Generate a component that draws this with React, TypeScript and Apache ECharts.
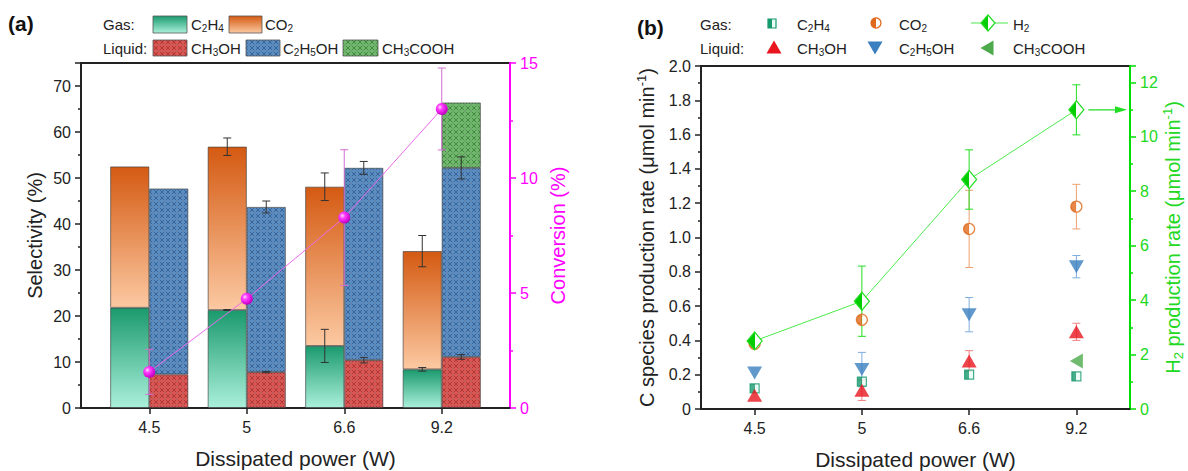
import React, { useEffect, useRef } from 'react';
import * as echarts from 'echarts';

const FF = "'Liberation Sans', Arial, Helvetica, sans-serif";
const TXT = '#222222';
const MAG = '#ff00ff';
const GRN = '#00dd00';

// ---------- categories ----------
const powers = ['4.5', '5', '6.6', '9.2'];
const xPos = [1, 2, 3, 4];

// ---------- panel (a): selectivity (%) ----------
const selC2H4 = [21.8, 21.3, 13.5, 8.4];
const selC2H4Err = [0, 0.1, 3.6, 0.4];
const selCO2 = [30.7, 35.5, 34.6, 25.7];
const selGasTotalErr = [0, 1.9, 3.0, 3.4];
const selCH3OH = [7.3, 7.8, 10.4, 11.1];
const selCH3OHErr = [0, 0.15, 0.6, 0.5];
const selC2H5OH = [40.4, 35.9, 41.8, 41.1];
const selLiquidTotalErr = [0, 1.3, 1.4, 2.4];
const selCH3COOH = [null, null, null, 14.2];

// conversion (%)
const conversion = [1.57, 4.75, 8.28, 13.0];
const conversionErr = [0.98, 0, 2.95, 1.78];

// ---------- panel (b): production rates ----------
const rateC2H4 = [0.12, 0.16, 0.2, 0.19];
const rateCO2 = [0.38, 0.52, 1.05, 1.18];
const rateCO2Err = [0, 0.02, 0.225, 0.13];
const rateCH3OH = [0.08, 0.11, 0.28, 0.45];
const rateCH3OHErr = [0, 0.06, 0.06, 0.05];
const rateC2H5OH = [0.21, 0.23, 0.55, 0.83];
const rateC2H5OHErr = [0, 0.1, 0.1, 0.065];
const rateCH3COOH = [null, null, null, 0.28];
const rateH2 = [2.5, 3.96, 8.43, 10.99];
const rateH2Err = [0, 1.29, 1.09, 0.92];

const BAR_W = 39;
const GRID_A = { left: 81, top: 63, width: 429, height: 345 };
const GRID_B = { left: 701, top: 66, width: 429, height: 343 };

function vgrad(top: string, bottom: string) {
  return new echarts.graphic.LinearGradient(0, 0, 0, 1, [
    { offset: 0, color: top },
    { offset: 1, color: bottom },
  ]);
}
function half(c: string, r = '#ffffff') {
  return new echarts.graphic.LinearGradient(0, 0, 1, 0, [
    { offset: 0, color: c },
    { offset: 0.5, color: c },
    { offset: 0.5, color: r },
    { offset: 1, color: r },
  ]);
}
function hatch(base: string, dark: string, light: string) {
  const c = document.createElement('canvas');
  c.width = 6;
  c.height = 6;
  const ctx = c.getContext('2d')!;
  ctx.fillStyle = base;
  ctx.fillRect(0, 0, 6, 6);
  ctx.strokeStyle = dark;
  ctx.lineWidth = 1;
  ctx.beginPath();
  ctx.moveTo(0, 0);
  ctx.lineTo(6, 6);
  ctx.moveTo(6, 0);
  ctx.lineTo(0, 6);
  ctx.stroke();
  ctx.fillStyle = light;
  ctx.fillRect(2, 2.5, 2, 1);
  return { image: c.toDataURL(), repeat: 'repeat', imageWidth: 6, imageHeight: 6 } as any;
}

function errorSeries(xi: number, yi: number, data: number[][], offset: number, color: string, cap: number, z: number) {
  return {
    type: 'custom',
    xAxisIndex: xi,
    yAxisIndex: yi,
    z,
    silent: true,
    data,
    encode: { x: 0, y: 1 },
    renderItem: (_p: any, api: any) => {
      const x = api.value(0);
      const y = api.value(1);
      const e = api.value(2);
      if (!e) return { type: 'group', children: [] };
      const p1 = api.coord([x, y + e]);
      const p2 = api.coord([x, y - e]);
      const px = p1[0] + offset;
      const st = { stroke: color, lineWidth: 1 };
      return {
        type: 'group',
        children: [
          { type: 'line', shape: { x1: px, y1: p1[1], x2: px, y2: p2[1] }, style: st },
          { type: 'line', shape: { x1: px - cap, y1: p1[1], x2: px + cap, y2: p1[1] }, style: st },
          { type: 'line', shape: { x1: px - cap, y1: p2[1], x2: px + cap, y2: p2[1] }, style: st },
        ],
      };
    },
  };
}

const richBase = (size: number, color: string) => ({
  n: { fontSize: size, fontFamily: FF, color, lineHeight: size + 4 },
  s: { fontSize: Math.round(size * 0.65), fontFamily: FF, color, lineHeight: 8, verticalAlign: 'bottom' },
  sup: { fontSize: Math.round(size * 0.65), fontFamily: FF, color, lineHeight: 10, verticalAlign: 'top' },
});

function yAxisBase(color: string) {
  return {
    axisLine: { show: true, onZero: false, lineStyle: { color, width: 2 } },
    axisTick: { show: true, inside: false, length: 6, lineStyle: { color, width: 1.5 } },
    minorTick: { show: true, splitNumber: 2, length: 3, lineStyle: { color, width: 1.5 } },
    splitLine: { show: false },
    minorSplitLine: { show: false },
    nameLocation: 'middle',
    nameMoveOverlap: false,
  };
}

export default function App() {
  const ref = useRef<HTMLDivElement>(null);
  useEffect(() => {
    if (!ref.current) return;
    const chart = echarts.init(ref.current, null, { renderer: 'svg' });

    const gC2H4 = () => vgrad('#1b9a6e', '#aaf0da');
    const gCO2 = () => vgrad('#d45a12', '#fcc9a2');
    const pRed = hatch('#d95652', 'rgba(120,20,20,0.45)', 'rgba(255,200,200,0.5)');
    const pBlue = hatch('#5a8dc2', 'rgba(20,50,100,0.45)', 'rgba(210,230,255,0.5)');
    const pGreen = hatch('#6fb86c', 'rgba(20,80,20,0.45)', 'rgba(220,255,220,0.5)');

    const barBorder = { borderColor: 'rgba(60,60,60,0.8)', borderWidth: 0.8 };

    const gasErrData: number[][] = [];
    const liqErrData: number[][] = [];
    xPos.forEach((x, i) => {
      gasErrData.push([x, selC2H4[i], selC2H4Err[i]]);
      gasErrData.push([x, selC2H4[i] + selCO2[i], selGasTotalErr[i]]);
      liqErrData.push([x, selCH3OH[i], selCH3OHErr[i]]);
      liqErrData.push([x, selCH3OH[i] + selC2H5OH[i], selLiquidTotalErr[i]]);
    });

    // value first so that the stack is applied on the value (y) dimension
    const stackPair = (arr: (number | null)[]) => xPos.map((x, i) => [arr[i], x]);
    const pair = (arr: (number | null)[]) => xPos.map((x, i) => [x, arr[i]]);
    const idxErr = (vals: number[], errs: number[]) => vals.map((v, i) => [i, v, errs[i]]);

    const barSeries = (name: string, stack: string, arr: (number | null)[], color: any) => ({
      name,
      type: 'bar',
      xAxisIndex: 0,
      yAxisIndex: 0,
      stack,
      barWidth: BAR_W,
      barGap: '0%',
      z: 2,
      encode: { x: 1, y: 0 },
      data: stackPair(arr),
      itemStyle: { color, ...barBorder },
    });

    const option: any = {
      animation: false,
      backgroundColor: '#ffffff',
      textStyle: { fontFamily: FF },
      grid: [
        { ...GRID_A, show: true, borderColor: '#222', borderWidth: 2, backgroundColor: 'transparent', containLabel: false, outerBoundsMode: 'none' },
        { ...GRID_B, show: true, borderColor: '#222', borderWidth: 2, backgroundColor: 'transparent', containLabel: false, outerBoundsMode: 'none' },
      ],
      xAxis: [
        {
          type: 'value',
          gridIndex: 0,
          min: 0.3,
          max: 4.7,
          axisLine: { show: true, onZero: false, lineStyle: { color: '#222', width: 2 } },
          axisTick: { show: true, customValues: xPos, length: 6, lineStyle: { color: '#222', width: 1.5 } },
          axisLabel: {
            customValues: xPos,
            formatter: (v: number) => (Number.isInteger(v) && v >= 1 && v <= 4 ? powers[v - 1] : ''),
            fontSize: 16,
            color: TXT,
            fontFamily: FF,
            margin: 11,
          },
          splitLine: { show: false },
          name: 'Dissipated power (W)',
          nameLocation: 'middle',
          nameGap: 40,
          nameMoveOverlap: false,
          nameTextStyle: { fontSize: 21, color: TXT, fontFamily: FF },
        },
        {
          type: 'category',
          gridIndex: 1,
          data: powers,
          boundaryGap: true,
          axisLine: { show: true, onZero: false, lineStyle: { color: '#222', width: 2 } },
          axisTick: { show: true, alignWithLabel: true, length: 6, lineStyle: { color: '#222', width: 1.5 } },
          axisLabel: { fontSize: 16, color: TXT, fontFamily: FF, margin: 11 },
          splitLine: { show: false },
          name: 'Dissipated power (W)',
          nameLocation: 'middle',
          nameGap: 40,
          nameMoveOverlap: false,
          nameTextStyle: { fontSize: 21, color: TXT, fontFamily: FF },
        },
      ],
      yAxis: [
        {
          ...yAxisBase('#222'),
          type: 'value',
          gridIndex: 0,
          position: 'left',
          min: 0,
          max: 75,
          interval: 10,
          axisLabel: { fontSize: 16, color: TXT, fontFamily: FF, margin: 10, showMaxLabel: false },
          name: 'Selectivity (%)',
          nameGap: 36,
          nameTextStyle: { fontSize: 20, color: TXT, fontFamily: FF },
        },
        {
          ...yAxisBase(MAG),
          type: 'value',
          gridIndex: 0,
          position: 'right',
          min: 0,
          max: 15,
          interval: 5,
          axisLabel: { fontSize: 16, color: MAG, fontFamily: FF, margin: 10 },
          name: 'Conversion (%)',
          nameGap: 38,
          nameTextStyle: { fontSize: 20, color: MAG, fontFamily: FF },
        },
        {
          ...yAxisBase('#222'),
          type: 'value',
          gridIndex: 1,
          position: 'left',
          min: 0,
          max: 2,
          interval: 0.2,
          axisLabel: {
            fontSize: 16,
            color: TXT,
            fontFamily: FF,
            margin: 10,
            formatter: (v: number) => (Math.abs(v) < 1e-9 ? '0' : v.toFixed(1)),
          },
          name: '{n|C species production rate (μmol min}{sup|-1}{n|)}',
          nameGap: 42,
          nameTextStyle: { fontSize: 20, color: TXT, fontFamily: FF, rich: richBase(20, TXT) },
        },
        {
          ...yAxisBase(GRN),
          type: 'value',
          gridIndex: 1,
          position: 'right',
          min: 0,
          max: 12.6,
          interval: 2,
          axisLabel: { fontSize: 16, color: '#22d822', fontFamily: FF, margin: 10, showMaxLabel: false },
          name: '{n|H}{s|2}{n| production rate (μmol min}{sup|-1}{n|)}',
          nameGap: 31,
          nameTextStyle: { fontSize: 20, color: '#22d822', fontFamily: FF, rich: richBase(20, '#22d822') },
        },
      ],
      series: [
        barSeries('C2H4', 'gas', selC2H4, gC2H4()),
        barSeries('CO2', 'gas', selCO2, gCO2()),
        barSeries('CH3OH', 'liq', selCH3OH, pRed),
        barSeries('C2H5OH', 'liq', selC2H5OH, pBlue),
        barSeries('CH3COOH', 'liq', selCH3COOH, pGreen),
        errorSeries(0, 0, gasErrData, -BAR_W / 2, '#333333', 4, 3),
        errorSeries(0, 0, liqErrData, BAR_W / 2, '#333333', 4, 3),
        errorSeries(0, 1, xPos.map((x, i) => [x, conversion[i], conversionErr[i]]), 0, '#d36ed3', 4, 4),
        {
          name: 'Conversion',
          type: 'line',
          xAxisIndex: 0,
          yAxisIndex: 1,
          z: 5,
          data: pair(conversion),
          symbol: 'circle',
          symbolSize: 12,
          lineStyle: { color: '#ec6aec', width: 1 },
          itemStyle: {
            color: new echarts.graphic.RadialGradient(0.35, 0.35, 0.65, [
              { offset: 0, color: '#ffd6ff' },
              { offset: 0.35, color: '#ff3cff' },
              { offset: 1, color: '#c400c4' },
            ]),
            borderWidth: 0,
          },
        },
        // panel (b) error bars
        errorSeries(1, 2, idxErr(rateCO2, rateCO2Err), 0, '#eea070', 4, 3),
        errorSeries(1, 2, idxErr(rateC2H5OH, rateC2H5OHErr), 0, '#7eaede', 4, 3),
        errorSeries(1, 2, idxErr(rateCH3OH, rateCH3OHErr), 0, '#f08080', 4, 3),
        errorSeries(1, 3, idxErr(rateH2, rateH2Err), 0, '#22dd22', 4, 3),
        { name: 'rC2H4', type: 'scatter', xAxisIndex: 1, yAxisIndex: 2, z: 6, data: rateC2H4, symbol: 'rect', symbolSize: 9, itemStyle: { color: half('#17996c', '#e8fbf4'), borderColor: '#17996c', borderWidth: 1.2 } },
        { name: 'rCO2', type: 'scatter', xAxisIndex: 1, yAxisIndex: 2, z: 6, data: rateCO2, symbol: 'circle', symbolSize: 11, itemStyle: { color: half('#e06a1c'), borderColor: '#e06a1c', borderWidth: 1.3 } },
        { name: 'rCH3OH', type: 'scatter', xAxisIndex: 1, yAxisIndex: 2, z: 6, data: rateCH3OH, symbol: 'triangle', symbolSize: [15, 13], itemStyle: { color: '#e8141e' } },
        { name: 'rC2H5OH', type: 'scatter', xAxisIndex: 1, yAxisIndex: 2, z: 6, data: rateC2H5OH, symbol: 'triangle', symbolRotate: 180, symbolSize: [15, 13], itemStyle: { color: '#3a7fc0' } },
        { name: 'rCH3COOH', type: 'scatter', xAxisIndex: 1, yAxisIndex: 2, z: 6, data: rateCH3COOH, symbol: 'triangle', symbolRotate: 90, symbolSize: [15, 13], itemStyle: { color: '#4caa4c' } },
        {
          name: 'rH2',
          type: 'line',
          xAxisIndex: 1,
          yAxisIndex: 3,
          z: 7,
          data: rateH2,
          symbol: 'diamond',
          symbolSize: [15, 18],
          lineStyle: { color: '#4cea4c', width: 1 },
          itemStyle: { color: half('#00cc00'), borderColor: '#22dd22', borderWidth: 1.2 },
        },
      ],
    };
    chart.setOption(option);

    // ---------- legends, labels, annotation ----------
    const txt = (x: number, y: number, text: string, size = 15, extra: any = {}) => ({
      type: 'text',
      x,
      y,
      style: { text, fontSize: size, fontFamily: FF, fill: TXT, verticalAlign: 'middle', align: 'left', rich: richBase(size, TXT), ...extra },
    });
    const swatch = (x: number, y: number, w: number, h: number, fill: any) => ({
      type: 'rect',
      shape: { x, y, width: w, height: h },
      style: { fill, stroke: '#555', lineWidth: 0.8 },
    });
    const tri = (cx: number, cy: number, dir: 'up' | 'down' | 'left', color: string) => {
      const w = 7.5, h = 6.5;
      let pts: number[][];
      if (dir === 'up') pts = [[cx, cy - h], [cx + w, cy + h], [cx - w, cy + h]];
      else if (dir === 'down') pts = [[cx, cy + h], [cx + w, cy - h], [cx - w, cy - h]];
      else pts = [[cx - h, cy], [cx + h, cy - w], [cx + h, cy + w]];
      return { type: 'polygon', shape: { points: pts }, style: { fill: color } };
    };

    const h2Pt = chart.convertToPixel({ xAxisIndex: 1, yAxisIndex: 3 } as any, [3, rateH2[3]]) as number[];
    const arrowEnd = GRID_B.left + GRID_B.width - 3;

    const graphic: any[] = [
      { type: 'text', x: 8, y: 23, style: { text: '(a)', fontSize: 21, fontWeight: 'bold', fontFamily: FF, fill: '#111', verticalAlign: 'middle' } },
      { type: 'text', x: 637, y: 27, style: { text: '(b)', fontSize: 21, fontWeight: 'bold', fontFamily: FF, fill: '#111', verticalAlign: 'middle' } },
      // legend (a)
      txt(103, 24, '{n|Gas:}'),
      swatch(153, 16, 34, 17, vgrad('#1b9a6e', '#aaf0da')),
      txt(191, 24, '{n|C}{s|2}{n|H}{s|4}'),
      swatch(229, 16, 33, 17, vgrad('#d45a12', '#fcc9a2')),
      txt(265, 24, '{n|CO}{s|2}'),
      txt(103, 48, '{n|Liquid:}'),
      swatch(153, 40, 34, 16, pRed),
      txt(191, 48, '{n|CH}{s|3}{n|OH}'),
      swatch(246, 40, 34, 16, pBlue),
      txt(283, 48, '{n|C}{s|2}{n|H}{s|5}{n|OH}'),
      swatch(343, 40, 35, 16, pGreen),
      txt(382, 48, '{n|CH}{s|3}{n|COOH}'),
      // legend (b)
      txt(700, 24, '{n|Gas:}'),
      { type: 'rect', shape: { x: 768, y: 19, width: 8, height: 9 }, style: { fill: half('#17996c', '#e8fbf4'), stroke: '#17996c', lineWidth: 1.2 } },
      txt(797, 24, '{n|C}{s|2}{n|H}{s|4}'),
      { type: 'circle', shape: { cx: 876, cy: 23, r: 5 }, style: { fill: half('#e06a1c'), stroke: '#e06a1c', lineWidth: 1.3 } },
      txt(899, 24, '{n|CO}{s|2}'),
      { type: 'line', shape: { x1: 971, y1: 23, x2: 1008, y2: 23 }, style: { stroke: '#4cea4c', lineWidth: 1.2 } },
      { type: 'polygon', shape: { points: [[988, 15], [995, 23], [988, 31], [981, 23]] }, style: { fill: half('#00cc00'), stroke: '#22dd22', lineWidth: 1.2 } },
      txt(1013, 24, '{n|H}{s|2}'),
      txt(700, 48, '{n|Liquid:}'),
      tri(774, 47, 'up', '#e8141e'),
      txt(797, 48, '{n|CH}{s|3}{n|OH}'),
      tri(875, 48, 'down', '#3a7fc0'),
      txt(899, 48, '{n|C}{s|2}{n|H}{s|5}{n|OH}'),
      tri(987, 48, 'left', '#4caa4c'),
      txt(1013, 48, '{n|CH}{s|3}{n|COOH}'),
    ];
    if (h2Pt && isFinite(h2Pt[0])) {
      graphic.push({ type: 'line', z: 100, shape: { x1: h2Pt[0] + 12, y1: h2Pt[1], x2: arrowEnd - 4, y2: h2Pt[1] }, style: { stroke: '#22dd22', lineWidth: 1.2 } });
      graphic.push({ type: 'polygon', z: 100, shape: { points: [[arrowEnd - 12, h2Pt[1] - 3.5], [arrowEnd, h2Pt[1]], [arrowEnd - 12, h2Pt[1] + 3.5]] }, style: { fill: '#22dd22' } });
    }
    chart.setOption({ graphic });

    return () => chart.dispose();
  }, []);

  return <div ref={ref} style={{ position: 'absolute', left: 0, top: 0, width: 1188, height: 471 }} />;
}
